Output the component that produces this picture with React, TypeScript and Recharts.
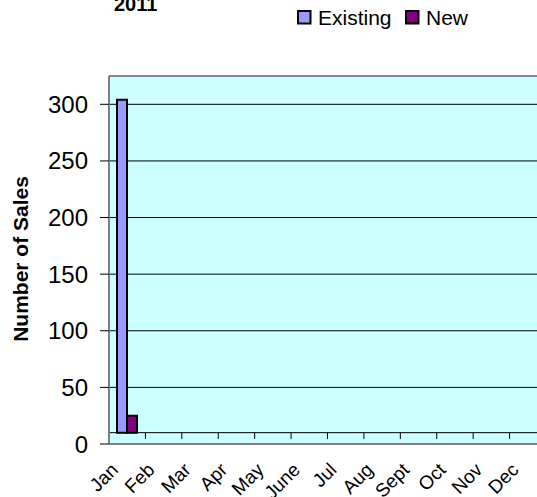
import React from 'react';
import { BarChart, Bar, XAxis, YAxis, CartesianGrid, ReferenceLine } from 'recharts';

const MONTHS = ['Jan', 'Feb', 'Mar', 'Apr', 'May', 'June', 'Jul', 'Aug', 'Sept', 'Oct', 'Nov', 'Dec'];
const EXISTING: (number | null)[] = [304, null, null, null, null, null, null, null, null, null, null, null];
const NEW_SALES: (number | null)[] = [25, null, null, null, null, null, null, null, null, null, null, null];
const Y_TICKS = [0, 50, 100, 150, 200, 250, 300];
const FLOOR = 10; // level of the 3D floor that the bars stand on
const Y_MAX = 325;
const TITLE = '2011';
const Y_LABEL = 'Number of Sales';

const SERIES = [
  { key: 'existing', name: 'Existing', color: '#9999ff' },
  { key: 'newSales', name: 'New', color: '#800080' },
];

const data = MONTHS.map((m, i) => ({ month: m, existing: EXISTING[i], newSales: NEW_SALES[i] }));

const FONT = '"Liberation Sans", Arial, sans-serif';
const CHART_W = 552;
const CHART_H = 497;
const MARGIN = { top: 76, right: 6, left: 0, bottom: 0 };
const Y_AXIS_W = 109;
const X_AXIS_H = 53;
const BAND = (CHART_W - MARGIN.right - Y_AXIS_W) / MONTHS.length;

const XTick = (props: any) => {
  const { x, y, payload } = props;
  const tx = x - 8;
  const ty = y + 27;
  return (
    <g>
      <line x1={x + BAND / 2} x2={x + BAND / 2} y1={y - 11} y2={y - 5} stroke="#000" strokeWidth={1} />
      <text
        x={tx}
        y={ty}
        transform={`rotate(-45, ${tx}, ${ty})`}
        textAnchor="end"
        fontSize={19}
        fontFamily={FONT}
        fill="#000"
      >
        {payload.value}
      </text>
    </g>
  );
};

const rangeKey = (k: string) => (d: any) => (d[k] == null ? null : [FLOOR, d[k]]);

export default function App() {
  return (
    <div
      style={{
        position: 'absolute',
        left: 0,
        top: 0,
        width: 537,
        height: 497,
        overflow: 'hidden',
        background: '#fff',
      }}
    >
      <BarChart width={CHART_W} height={CHART_H} data={data} margin={MARGIN} barGap={0}>
        <CartesianGrid horizontal vertical={false} stroke="#000" fill="#ccffff" fillOpacity={1} />
        <YAxis
          type="number"
          domain={[0, Y_MAX]}
          ticks={Y_TICKS}
          interval={0}
          width={Y_AXIS_W}
          tickSize={9}
          tickMargin={12}
          tickLine={{ stroke: '#000' }}
          axisLine={{ stroke: '#808080', strokeWidth: 2 }}
          tick={{ fontSize: 24, fill: '#000', fontFamily: FONT }}
          allowDataOverflow
        />
        <XAxis
          dataKey="month"
          interval={0}
          height={X_AXIS_H}
          tickLine={false}
          tickSize={0}
          tickMargin={0}
          axisLine={{ stroke: '#808080', strokeWidth: 2 }}
          tick={<XTick />}
        />
        <ReferenceLine y={FLOOR} stroke="#000" strokeWidth={1} />
        <ReferenceLine y={Y_MAX} stroke="#888" strokeWidth={2} />
        {SERIES.map((s) => (
          <Bar
            key={s.key}
            dataKey={rangeKey(s.key)}
            name={s.name}
            fill={s.color}
            stroke="#000"
            strokeWidth={2}
            barSize={10}
            isAnimationActive={false}
          />
        ))}
      </BarChart>
      <svg
        width={537}
        height={497}
        style={{ position: 'absolute', left: 0, top: 0, pointerEvents: 'none' }}
      >
        <text x={114} y={11.3} fontSize={20} fontWeight="bold" fontFamily={FONT} fill="#000">
          {TITLE}
        </text>
        <text
          x={27.5}
          y={259}
          transform="rotate(-90, 27.5, 259)"
          textAnchor="middle"
          fontSize={21}
          fontWeight="bold"
          fontFamily={FONT}
          fill="#000"
        >
          {Y_LABEL}
        </text>
        {SERIES.map((s, i) => {
          const bx = [298, 406][i];
          return (
            <g key={s.key}>
              <rect x={bx} y={11} width={12.5} height={12.5} fill={s.color} stroke="#000" strokeWidth={2} />
              <text x={bx + 20} y={25} fontSize={21} fontFamily={FONT} fill="#000">
                {s.name}
              </text>
            </g>
          );
        })}
      </svg>
    </div>
  );
}
